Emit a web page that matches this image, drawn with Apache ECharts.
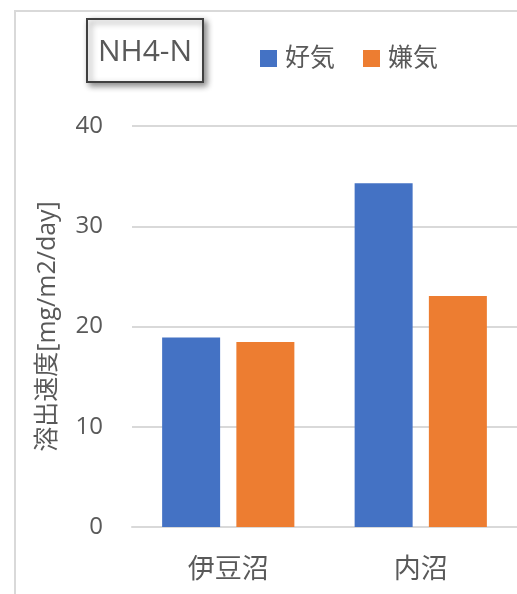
<!DOCTYPE html>
<html>
<head>
<meta charset="utf-8">
<script src="https://cdn.jsdelivr.net/npm/echarts@6/dist/echarts.min.js"></script>
<style>
html,body{margin:0;padding:0;background:#fff;}
#chart{width:517px;height:594px;}
</style>
</head>
<body>
<div id="chart"></div>
<script>
const categories = ['伊豆沼', '内沼'];
const seriesNames = ['好気', '嫌気'];
const aerobic = [18.9, 34.3];
const anaerobic = [18.45, 23.05];
const titleText = 'NH4-N';
const yAxisName = '溶出速度[mg/m2/day]';

const FONT = '"Open Sans", "Noto Sans CJK JP", sans-serif';
const chart = echarts.init(document.getElementById('chart'));
chart.setOption({
  animation: false,
  textStyle: { fontFamily: FONT },
  color: ['#4472C4', '#ED7D31'],
  grid: { left: 132, right: -1, top: 126, bottom: 67, containLabel: false },
  legend: {
    data: seriesNames,
    left: 255, top: 41,
    itemWidth: 17, itemHeight: 17, itemGap: 28,
    icon: 'rect',
    textStyle: { fontSize: 25, color: '#595959', fontFamily: FONT, padding: [0, 0, 0, 3] }
  },
  graphic: [
    { type: 'rect', silent: true, z: -10,
      shape: { x: 15, y: 11, width: 600, height: 700 },
      style: { fill: '#fff', stroke: '#d9d9d9', lineWidth: 2 } },
    { type: 'rect', silent: true, z: 10,
      shape: { x: 87, y: 19, width: 116, height: 63 },
      style: { fill: '#fff', stroke: '#404040', lineWidth: 2,
        shadowBlur: 6, shadowOffsetX: 3, shadowOffsetY: 3, shadowColor: 'rgba(0,0,0,0.45)' } },
    { type: 'text', silent: true, z: 11,
      x: 145, y: 52,
      style: { text: titleText, fontSize: 30, fill: '#595959', fontFamily: FONT,
        align: 'center', verticalAlign: 'middle' } }
  ],
  xAxis: {
    type: 'category',
    data: categories,
    axisLine: { lineStyle: { color: '#d9d9d9', width: 2 } },
    axisTick: { show: false },
    axisLabel: { fontSize: 27, color: '#595959', margin: 30, fontFamily: FONT }
  },
  yAxis: {
    type: 'value',
    min: 0, max: 40, interval: 10,
    name: yAxisName,
    nameLocation: 'middle',
    nameGap: 72,
    nameTextStyle: { fontSize: 25, color: '#595959', fontFamily: FONT },
    axisLine: { show: false },
    axisTick: { show: false },
    axisLabel: { fontSize: 24, color: '#595959', margin: 29, fontFamily: FONT },
    splitLine: { lineStyle: { color: '#d9d9d9', width: 2 } }
  },
  series: [
    { name: seriesNames[0], type: 'bar', data: aerobic, barWidth: 58, barGap: '28%' },
    { name: seriesNames[1], type: 'bar', data: anaerobic, barWidth: 58, barGap: '28%' }
  ]
});
</script>
</body>
</html>
